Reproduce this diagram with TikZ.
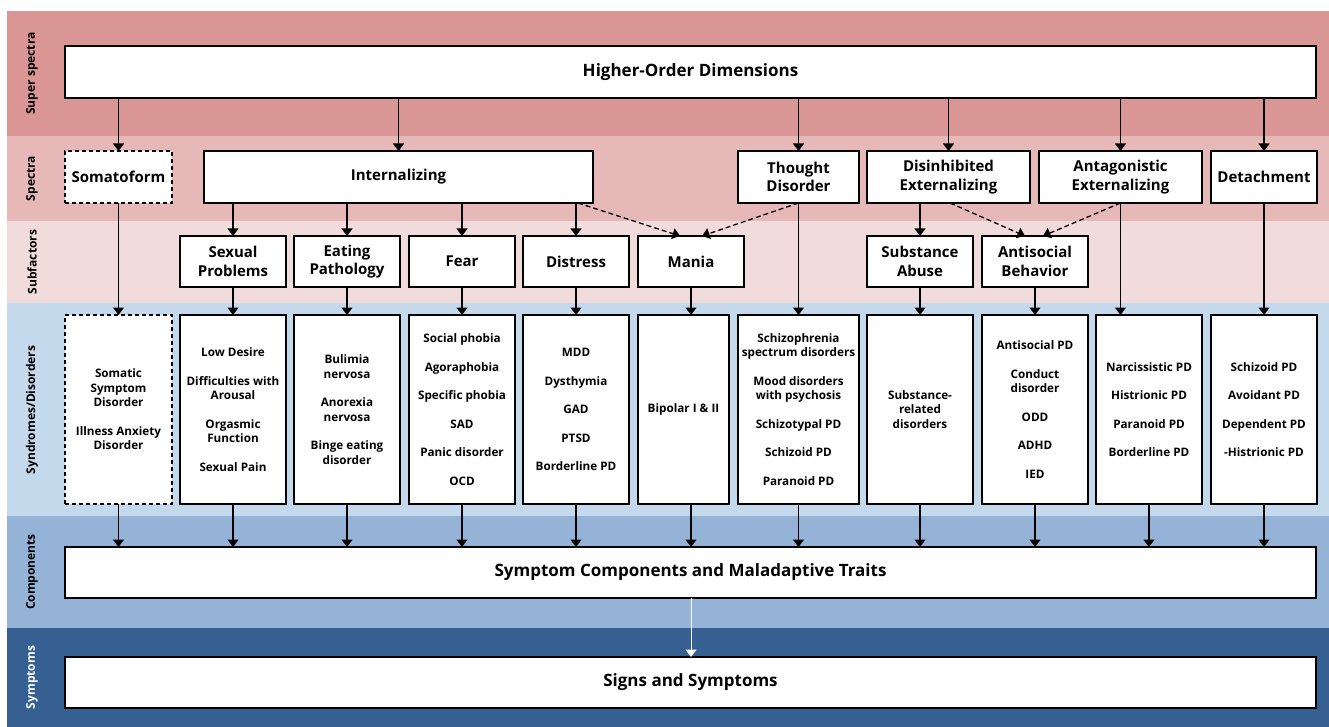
\documentclass[tikz,border=0pt]{standalone}
\usepackage{fontspec}
\setmainfont{Open Sans}
\usetikzlibrary{arrows.meta}
\definecolor{cSuper}{RGB}{218,150,148}
\definecolor{cSpec}{RGB}{230,184,183}
\definecolor{cSub}{RGB}{242,220,219}
\definecolor{cSyn}{RGB}{197,217,236}
\definecolor{cComp}{RGB}{149,179,215}
\definecolor{cSym}{RGB}{54,96,146}
\newcommand{\itemgap}{\\[14pt]}
\begin{document}
\begin{tikzpicture}[x=1pt,y=-1pt,
  box/.style={draw=black, line width=1.3pt, fill=white, inner sep=1pt, outer sep=0pt, align=center},
  bigbox/.style={box, minimum height=52pt, font=\bfseries\fontsize{17}{20}\selectfont},
  specbox/.style={box, minimum height=52pt, font=\bfseries\fontsize{15}{18.5}\selectfont},
  subbox/.style={box, minimum height=51pt, minimum width=106pt, font=\bfseries\fontsize{15}{18.5}\selectfont},
  synbox/.style={box, minimum height=189pt, minimum width=106pt, font=\bfseries\fontsize{11.7}{14.5}\selectfont},
  dashbox/.style={dash pattern=on 4pt off 3pt},
  bandlabel/.style={rotate=90, font=\bfseries\fontsize{12}{14}\selectfont},
  arr/.style={line width=1.3pt, -{Triangle[width=11pt,length=7.5pt]}},
  darr/.style={arr, dash pattern=on 5pt off 3pt}
]
\useasboundingbox (0,0) rectangle (1329,727);
% bands
\fill[cSuper] (7,11) rectangle (1329,136);
\fill[cSpec] (7,136) rectangle (1329,221);
\fill[cSub] (7,221) rectangle (1329,303);
\fill[cSyn] (7,303) rectangle (1329,516);
\fill[cComp] (7,516) rectangle (1329,628);
\fill[cSym] (7,628) rectangle (1329,727);
% band labels
\node[bandlabel] (lsuper) at (32,73.5) {Super spectra};
\node[bandlabel] (lspec) at (32,178.5) {Spectra};
\node[bandlabel] (lsub) at (32,262) {Subfactors};
\node[bandlabel] (lsyn) at (32,410) {Syndromes/Disorders};
\node[bandlabel] (lcomp) at (32,572) {Components};
\node[bandlabel, text=white] (lsym) at (32,677.5) {Symptoms};
% top
\node[bigbox, minimum width=1251pt] (hod) at (690.5,72) {Higher-Order Dimensions};
% spectra
\node[specbox, dashbox, minimum width=107pt] (som) at (118.5,177) {Somatoform};
\node[specbox, minimum width=389pt] (int) at (398.5,177) {Internalizing};
\node[specbox, minimum width=121pt] (tho) at (798.5,177) {Thought\\Disorder};
\node[specbox, minimum width=163pt] (dis) at (948.5,177) {Disinhibited\\Externalizing};
\node[specbox, minimum width=163pt] (ant) at (1120.5,177) {Antagonistic\\Externalizing};
\node[specbox, minimum width=106pt] (det) at (1264,177) {Detachment};
% subfactors
\node[subbox] (sex) at (233,261.5) {Sexual\\Problems};
\node[subbox] (eat) at (347,261.5) {Eating\\Pathology};
\node[subbox] (fear) at (462,261.5) {Fear};
\node[subbox] (dstr) at (576,261.5) {Distress};
\node[subbox] (mania) at (691,261.5) {Mania};
\node[subbox] (sub) at (920,261.5) {Substance\\Abuse};
\node[subbox] (asb) at (1035,261.5) {Antisocial\\Behavior};
% syndromes
\node[synbox, dashbox, minimum width=107pt] (d1) at (118.5,409.5) {Somatic\\Symptom\\Disorder\itemgap Illness Anxiety\\Disorder};
\node[synbox] (d2) at (233,409.5) {Low Desire\itemgap Difficulties with\\Arousal\itemgap Orgasmic\\Function\itemgap Sexual Pain};
\node[synbox] (d3) at (347,409.5) {Bulimia\\nervosa\itemgap Anorexia\\nervosa\itemgap Binge eating\\disorder};
\node[synbox] (d4) at (462,409.5) {Social phobia\itemgap Agoraphobia\itemgap Specific phobia\itemgap SAD\itemgap Panic disorder\itemgap OCD};
\node[synbox] (d5) at (576,409.5) {MDD\itemgap Dysthymia\itemgap GAD\itemgap PTSD\itemgap Borderline PD};
\node[synbox, minimum width=91pt] (d6) at (683.5,409.5) {Bipolar I \& II};
\node[synbox, minimum width=121pt] (d7) at (798.5,409.5) {Schizophrenia\\spectrum disorders\itemgap Mood disorders\\with psychosis\itemgap Schizotypal PD\itemgap Schizoid PD\itemgap Paranoid PD};
\node[synbox] (d8) at (920,409.5) {Substance-\\related\\disorders};
\node[synbox] (d9) at (1035,409.5) {Antisocial PD\itemgap Conduct\\disorder\itemgap ODD\itemgap ADHD\itemgap IED};
\node[synbox] (d10) at (1149,409.5) {Narcissistic PD\itemgap Histrionic PD\itemgap Paranoid PD\itemgap Borderline PD};
\node[synbox] (d11) at (1264,409.5) {Schizoid PD\itemgap Avoidant PD\itemgap Dependent PD\itemgap -Histrionic PD};
% bottom boxes
\node[bigbox, minimum width=1251pt, minimum height=51pt] (comp) at (690.5,572.5) {Symptom Components and Maladaptive Traits};
\node[bigbox, minimum width=1251pt, minimum height=51pt] (symp) at (690.5,682.5) {Signs and Symptoms};
% arrows HOD -> spectra
\foreach \t in {som,int,tho,dis,ant,det}
  \draw[arr] (hod.south -| \t.north) -- (\t.north);
% internalizing -> subfactors
\foreach \t in {sex,eat,fear,dstr}
  \draw[arr] (int.south -| \t.north) -- (\t.north);
\draw[arr] (dis.south -| sub.north) -- (sub.north);
% dashed
\draw[darr] ([xshift=-15pt]int.south east) -- ([xshift=-11pt]mania.north);
\draw[darr] (tho.south) -- ([xshift=11pt]mania.north);
\draw[darr] ([xshift=1.5pt]dis.south) -- ([xshift=-10pt]asb.north);
\draw[darr] (ant.south) -- ([xshift=8pt]asb.north);
% spectra/subfactors -> syndromes
\draw[arr] (som.south) -- (som.south |- d1.north);
\foreach \s in {sex,eat,fear,dstr,mania,sub,asb}
  \draw[arr] (\s.south) -- (\s.south |- d2.north);
\draw[arr] (tho.south) -- (tho.south |- d7.north);
\draw[arr] (ant.south) -- (ant.south |- d10.north);
\draw[arr] (det.south) -- (det.south |- d11.north);
% syndromes -> components
\foreach \d in {d1,d2,d3,d4,d5,d7,d8,d9,d10,d11}
  \draw[arr] (\d.south) -- (\d.south |- comp.north);
\draw[arr] (d6.south -| mania.south) -- (comp.north -| mania.south);
% components -> symptoms
\draw[arr, draw=white, fill=white, line width=1pt] (comp.south -| mania.south) -- (symp.north -| mania.south);
\end{tikzpicture}
\end{document}
